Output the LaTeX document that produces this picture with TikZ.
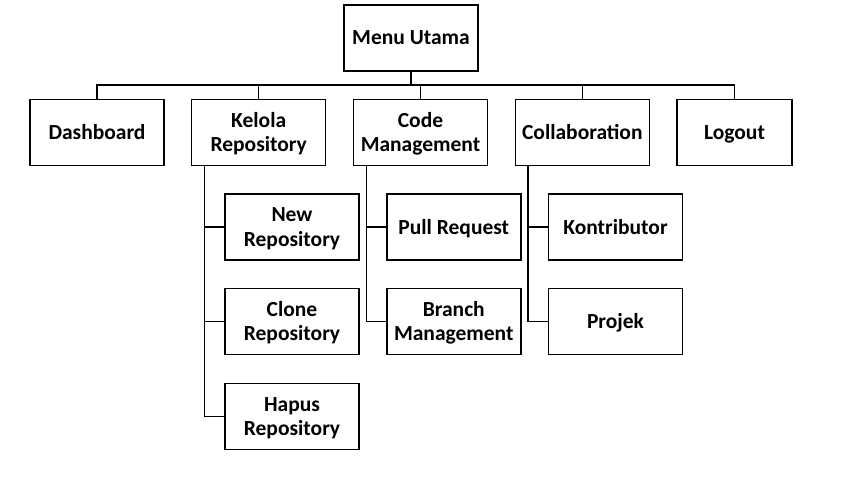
\documentclass[tikz,border=0pt]{standalone}
\usepackage{fontspec}
\setmainfont{Carlito}
\newcommand{\mstrut}{\rule[-5.2pt]{0pt}{24.4pt}}
\begin{document}
\begin{tikzpicture}[x=1pt, y=-1pt, line width=1.4pt,
    menubox/.style={draw, fill=white, minimum width=134pt, minimum height=66pt, inner sep=2pt,
        align=center, font=\bfseries\fontsize{21.5}{24.4}\selectfont,
        execute at begin node=\mstrut, execute at end node=\mstrut}]
    \useasboundingbox (0,0) rectangle (843,481);

    % Root
    \node[menubox] (utama) at (411,38) {Menu Utama};

    % Main menu
    \node[menubox] (dashboard) at (97,132.3) {Dashboard};
    \node[menubox] (kelola) at (258.7,132.3) {\mstrut Kelola\\Repository};
    \node[menubox] (code) at (420.5,132.3) {\mstrut Code\\Management};
    \node[menubox] (collab) at (582.3,132.3) {Collaboration};
    \node[menubox, minimum width=115pt] (logout) at (734.5,132.3) {Logout};

    % Sub menus
    \node[menubox] (newrepo) at (292,227) {\mstrut New\\Repository};
    \node[menubox] (clonerepo) at (292,321.7) {\mstrut Clone\\Repository};
    \node[menubox] (hapusrepo) at (292,416.5) {\mstrut Hapus\\Repository};
    \node[menubox] (pullreq) at (453.8,227) {Pull Request};
    \node[menubox] (branch) at (453.8,321.7) {\mstrut Branch\\Management};
    \node[menubox] (kontrib) at (615.5,227) {Kontributor};
    \node[menubox] (projek) at (615.5,321.7) {Projek};

    % Bus to the main menu
    \coordinate (bus) at (411,85);
    \draw (utama.south) -- (bus);
    \draw (dashboard.north) |- (bus) -| (logout.north);
    \foreach \m in {kelola, code, collab}
        \draw (\m.north) -- (\m.north |- bus);

    % Sub menu links
    \foreach \p/\c in {kelola/newrepo, kelola/clonerepo, kelola/hapusrepo,
                       code/pullreq, code/branch, collab/kontrib, collab/projek}
        \draw ([xshift=13.5pt]\p.south west) |- (\c.west);
\end{tikzpicture}
\end{document}
